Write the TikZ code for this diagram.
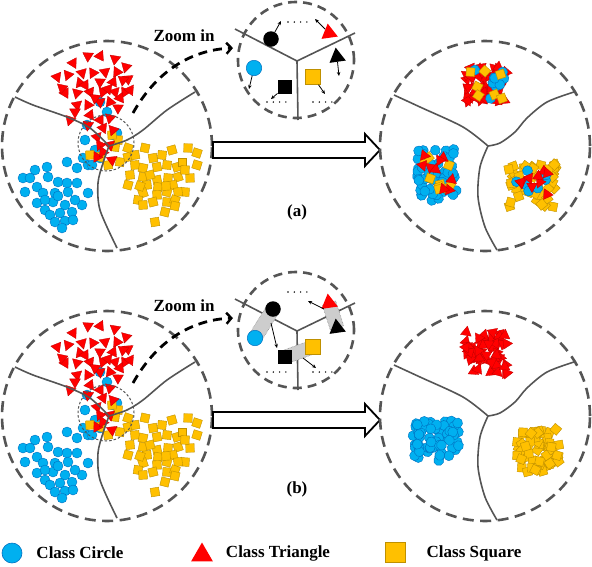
\documentclass[tikz,border=0pt]{standalone}
\usepackage{fontspec}
\setmainfont{Liberation Serif}
\usetikzlibrary{shapes.geometric,arrows.meta,calc}
\definecolor{cblue}{RGB}{0,176,240}
\definecolor{cblueb}{RGB}{0,112,192}
\definecolor{cyel}{RGB}{255,192,0}
\definecolor{cyelb}{RGB}{191,144,0}
\definecolor{cred}{RGB}{255,0,0}
\definecolor{credb}{RGB}{192,0,0}
\definecolor{lgray}{RGB}{85,85,85}
\definecolor{bandgray}{RGB}{205,205,205}
\tikzset{
 tri/.style={regular polygon, regular polygon sides=3, fill=cred, draw=credb, line width=0.3pt, minimum size=12.5pt, inner sep=0pt},
 circ/.style={circle, fill=cblue, draw=cblueb, line width=0.4pt, minimum size=10pt, inner sep=0pt},
 sq/.style={rectangle, fill=cyel, draw=cyelb, line width=0.4pt, minimum size=8.5pt, inner sep=0pt},
 bigring/.style={draw=lgray, line width=2.6pt, dash pattern=on 11pt off 6.5pt},
 zring/.style={draw=lgray, line width=2.6pt, dash pattern=on 9pt off 6pt},
 dotring/.style={draw=lgray, line width=1pt, dash pattern=on 2.5pt off 2pt},
 bound/.style={draw=lgray, line width=1.6pt},
 hollow/.style={draw=black, line width=1.8pt, fill=white, line join=miter},
 zoomarrow/.style={draw=black, line width=2.8pt, dash pattern=on 9pt off 6pt, -{Straight Barb[length=5pt,width=11pt,line width=2.4pt]}},
 small/.style={draw=black, line width=0.8pt, -{Stealth[length=4pt,width=3.5pt]}},
 dots/.style={draw=black, line width=1.6pt, line cap=round, dash pattern=on 0pt off 6.3pt},
 band/.style={fill=bandgray, draw=gray, line width=0.5pt, densely dotted},
 bcirc/.style={circle, fill=black, minimum size=15.5pt, inner sep=0pt},
 zcirc/.style={circle, fill=cblue, draw=cblueb, line width=0.5pt, minimum size=15.5pt, inner sep=0pt},
 bsq/.style={rectangle, fill=black, minimum size=14.5pt, inner sep=0pt},
 zsq/.style={rectangle, fill=cyel, draw=cyelb, line width=0.6pt, minimum size=15pt, inner sep=0pt},
 btri/.style={regular polygon, regular polygon sides=3, fill=black, minimum size=19pt, inner sep=0pt},
 ztri/.style={regular polygon, regular polygon sides=3, fill=cred, minimum size=19pt, inner sep=0pt},
 lab/.style={font=\fontsize{17}{20}\selectfont\bfseries, inner sep=0pt},
}
\newcommand\scatterleft[1]{%
 \foreach \x/\y [count=\i] in {23/178,35/170,47/167,67/162,77/168,88/165,37/187,48/177,58/182,67/183,77/183,88/193,25/192,43/193,55/193,68/192,82/205,37/203,53/202,65/205,45/210,60/213,72/212,50/215,55/222,65/221,73/220,62/228,100/102,107/112,87/125,85/140,113/135,117/133,95/150,83/158,92/165,100/158,30/178,58/196,45/200,75/200}
   \node[circ] (#1c\i) at (\x,\y) {};
 \foreach \x/\y [count=\i] in {90/155,100/157,108/165,120/162,128/157,118/140,128/148,112/135,145/148,153/158,162/155,172/150,188/148,197/153,135/165,143/168,157/167,167/165,177/167,182/162,197/165,130/175,143/177,157/180,168/178,178/177,190/178,128/185,147/185,158/187,173/185,185/192,143/193,157/195,167/192,178/192,138/200,153/202,167/202,175/200,143/205,165/212,155/222,115/147,150/175,185/170,140/186,166/186,175/206,135/155}
   \node[sq, rotate={mod(\i*23,40)-20}] (#1s\i) at (\x,\y) {};
 \foreach \x/\y [count=\i] in {88/56,100/56,115/59,73/63,126/67,57/77,68/75,82/73,93/73,105/72,117/72,128/79,80/83,100/82,113/82,123/80,65/93,77/93,90/92,103/92,115/92,125/92,77/105,88/105,100/102,110/102,118/108,90/115,88/125,100/120,110/118,103/128,113/130,97/137,100/145,110/145,97/157,112/160,103/152,75/112,120/98,95/98,85/85,62/88,130/90,70/120,108/89}
   \node[tri, rotate={20+mod(\i*37,80)}] (#1t\i) at (\x,\y) {};
 \draw[bound] plot[smooth] coordinates {(15,97) (33,105) (67,117) (90,128) (109,146)};
 \draw[bound] plot[smooth] coordinates {(195,92) (167,110) (143,130) (127,140) (109,146)};
 \draw[bound] plot[smooth] coordinates {(109,146) (103,163) (98,183) (100,210) (117,248)};
 \node[draw=none, circle, minimum size=56pt, inner sep=0pt, dotring] (#1dz) at (106,143) {};
 \node[circle, minimum size=210pt, inner sep=0pt, bigring] (#1big) at (107,146) {};
}
\newcommand\cluster[7]{%
 \foreach \k in {1,...,#6}{%
   \pgfmathsetmacro\dx{#4*rand}%
   \pgfmathsetmacro\dy{#5*rand}%
   \pgfmathsetmacro\rr{360*rnd}%
   \node[#1, rotate=\rr] (#7\k) at ({#2+\dx},{#3+\dy}) {};
 }}
\newcommand\rightbounds{%
 \draw[bound] plot[smooth] coordinates {(394,95) (420,107) (463,127) (488,146)};
 \draw[bound] plot[smooth] coordinates {(574,92) (547,102) (527,118) (515,132) (500,143) (488,146)};
 \draw[bound] plot[smooth] coordinates {(488,146) (480,167) (478,197) (485,227) (497,250)};
}
\begin{document}
\begin{tikzpicture}[x=1pt,y=-1pt]
\useasboundingbox (0,0) rectangle (592,566);
\pgfmathsetseed{4242}
% ================= (a) =================
\scatterleft{a}
\draw[bound] (235,29) -- (297,61) -- (355,33);
\draw[bound] (297,61) -- (298,120);
\node[circle, minimum size=116pt, inner sep=0pt, zring] (azr) at (296,60) {};
\node[bcirc] (abc) at (271,39) {};
\node[ztri, rotate=8] (art) at (329,33) {};
\node[btri, rotate=8] (abt) at (337,57) {};
\node[zcirc] (azc) at (254,68) {};
\node[bsq] (abs) at (285,87) {};
\node[zsq] (azs) at (313,77) {};
\coordinate (aa1) at (281,21); \draw[small] (abc) -- (aa1);
\coordinate (aa2) at (315,19); \draw[small] (art) -- (aa2);
\coordinate (aa3) at (339,76); \draw[small] (abt) -- (aa3);
\coordinate (aa4) at (249,89); \draw[small] (azc) -- (aa4);
\coordinate (aa5) at (271,99); \draw[small] (abs) -- (aa5);
\coordinate (aa6) at (325,94); \draw[small] (azs) -- (aa6);
\coordinate (ad1) at (288,22); \coordinate (ad2) at (308,22);
\draw[dots] (ad1) -- (ad2);
\coordinate (ad3) at (267,102); \coordinate (ad4) at (286,102);
\draw[dots] (ad3) -- (ad4);
\coordinate (ad5) at (313,102); \coordinate (ad6) at (333,102);
\draw[dots] (ad5) -- (ad6);
\node[lab] (azoom) at (184,36) {Zoom in};
\coordinate (azs0) at (133,113); \coordinate (aze) at (233,48);
\draw[zoomarrow] (azs0) .. controls (156,72) and (190,50) .. (aze);
\draw[hollow] (213,142) -- (365,142) -- (365,134) -- (380,150) -- (365,166) -- (365,158) -- (213,158) -- cycle;
\cluster{tri}{486}{85}{21}{18}{55}{art}
\cluster{circ}{487}{85}{17}{15}{9}{arc}
\cluster{sq}{486}{85}{17}{15}{7}{ars}
\cluster{circ}{437}{175}{20}{27}{50}{abc}
\cluster{sq}{437}{172}{15}{22}{9}{abs}
\cluster{tri}{437}{172}{15}{18}{9}{abtr}
\cluster{sq}{532}{185}{24}{22}{50}{ays}
\cluster{circ}{530}{180}{17}{12}{7}{ayc}
\cluster{tri}{533}{182}{16}{14}{9}{ayt}
\rightbounds
\node[circle, minimum size=210pt, inner sep=0pt, bigring] (arbig) at (485,146) {};
\node[lab] (alab) at (297,212) {(a)};
% ================= (b) =================
\begin{scope}[yshift=-270pt]
\scatterleft{b}
\draw[bound] (235,29) -- (297,61) -- (355,33);
\draw[bound] (297,61) -- (298,120);
\node[circle, minimum size=116pt, inner sep=0pt, zring] (bzr) at (296,60) {};
\coordinate (bp1) at (273,39); \coordinate (bp2) at (255,68);
\fill[band] ($(bp1)!7pt!90:(bp2)$) -- ($(bp2)!7pt!-90:(bp1)$) -- ($(bp2)!7pt!90:(bp1)$) -- ($(bp1)!7pt!-90:(bp2)$) -- cycle;
\coordinate (bp3) at (285,87); \coordinate (bp4) at (313,77);
\fill[band] ($(bp3)!7pt!90:(bp4)$) -- ($(bp4)!7pt!-90:(bp3)$) -- ($(bp4)!7pt!90:(bp3)$) -- ($(bp3)!7pt!-90:(bp4)$) -- cycle;
\coordinate (bp5) at (329,33); \coordinate (bp6) at (337,58);
\fill[band] ($(bp5)!7pt!90:(bp6)$) -- ($(bp6)!7pt!-90:(bp5)$) -- ($(bp6)!7pt!90:(bp5)$) -- ($(bp5)!7pt!-90:(bp6)$) -- cycle;
\node[bcirc] (bbc) at (bp1) {};
\node[zcirc] (bzc) at (bp2) {};
\node[bsq] (bbs) at (bp3) {};
\node[zsq] (bzs) at (bp4) {};
\node[ztri, rotate=8] (brt) at (bp5) {};
\node[btri, rotate=8] (bbt) at (bp6) {};
\coordinate (ba1) at (277,78); \draw[small] (271,53) -- (ba1);
\coordinate (ba2) at (308,31); \draw[small] (324,39) -- (ba2);
\coordinate (ba3) at (316,98); \draw[small] (303,88) -- (ba3);
\coordinate (bd1) at (288,22); \coordinate (bd2) at (308,22);
\draw[dots] (bd1) -- (bd2);
\coordinate (bd3) at (267,102); \coordinate (bd4) at (286,102);
\draw[dots] (bd3) -- (bd4);
\coordinate (bd5) at (313,102); \coordinate (bd6) at (333,102);
\draw[dots] (bd5) -- (bd6);
\node[lab] (bzoom) at (184,36) {Zoom in};
\coordinate (bzs0) at (133,113); \coordinate (bze) at (233,48);
\draw[zoomarrow] (bzs0) .. controls (156,72) and (190,50) .. (bze);
\draw[hollow] (213,142) -- (365,142) -- (365,134) -- (380,150) -- (365,166) -- (365,158) -- (213,158) -- cycle;
\cluster{tri}{486}{83}{21}{21}{65}{brt}
\cluster{circ}{436}{171}{23}{20}{65}{bbc}
\cluster{sq}{538}{180}{21}{22}{65}{bys}
\rightbounds
\node[circle, minimum size=210pt, inner sep=0pt, bigring] (brbig) at (485,146) {};
\node[lab] (blab) at (297,219) {(b)};
\end{scope}
% ================= legend =================
\node[circle, fill=cblue, draw=cblueb, line width=0.6pt, minimum size=20pt, inner sep=0pt] (lc) at (12,553) {};
\node[lab] (lct) at (80,553) {Class Circle};
\node[regular polygon, regular polygon sides=3, fill=cred, minimum size=25pt, inner sep=0pt] (lt) at (202,555) {};
\node[lab] (ltt) at (278,553) {Class Triangle};
\node[rectangle, fill=cyel, draw=cyelb, line width=0.6pt, minimum size=20pt, inner sep=0pt] (ls) at (395,552) {};
\node[lab] (lst) at (474,553) {Class Square};
\end{tikzpicture}
\end{document}
